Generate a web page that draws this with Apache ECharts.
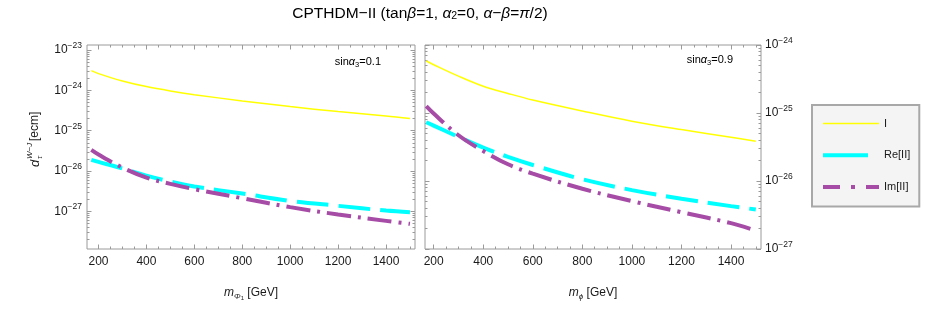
<!DOCTYPE html>
<html><head><meta charset="utf-8">
<script src="https://cdn.jsdelivr.net/npm/echarts@6/dist/echarts.min.js"></script>
<style>html,body{margin:0;padding:0;background:#fff}#c{width:926px;height:313px}</style>
</head><body><div id="c"></div>
<script>
// ---- data ----
const massL = [170, 200, 300, 400, 500, 600, 800, 1000, 1200, 1400, 1500];
const massR = [170, 200, 300, 400, 500, 600, 800, 1000, 1200, 1400, 1500];
// sin(alpha3) = 0.1
const I_01  = [3.08e-24, 2.60e-24, 1.71e-24, 1.24e-24, 9.67e-25, 7.84e-25, 5.47e-25, 3.96e-25, 2.98e-25, 2.32e-25, 2.00e-25];
const Re_01 = [1.89e-26, 1.69e-26, 1.16e-26, 7.75e-27, 5.50e-27, 4.14e-27, 2.78e-27, 1.83e-27, 1.38e-27, 1.05e-27, 9.60e-28];
const Im_01 = [3.35e-26, 2.57e-26, 1.22e-26, 6.90e-27, 4.82e-27, 3.56e-27, 2.13e-27, 1.28e-27, 8.40e-28, 5.85e-28, 4.93e-28];
// sin(alpha3) = 0.9
const I_09  = [5.81e-25, 5.13e-25, 3.49e-25, 2.48e-25, 1.94e-25, 1.55e-25, 1.07e-25, 7.57e-26, 5.70e-26, 4.40e-26, 3.84e-26];
const Re_09 = [7.31e-26, 6.53e-26, 4.45e-26, 3.10e-26, 2.26e-26, 1.72e-26, 1.06e-26, 7.35e-27, 5.48e-27, 4.27e-27, 3.81e-27];
const Im_09 = [1.26e-25, 9.80e-26, 4.71e-26, 2.76e-26, 1.76e-26, 1.28e-26, 7.69e-27, 5.06e-27, 3.48e-27, 2.40e-27, 1.87e-27];
// tick labels
const xTickLabels = [200, 400, 600, 800, 1000, 1200, 1400];
const yTickLeft  = [1e-27, 1e-26, 1e-25, 1e-24, 1e-23];
const yTickRight = [1e-27, 1e-26, 1e-25, 1e-24];
const seriesNames = ['I', 'Re[II]', 'Im[II]'];

// ---- styling ----
const F = '"Liberation Sans", Arial, sans-serif';
const TXT = '#1a1a1a';
const FRAME = '#9a9a9a';
const COL = ['#ffff00', '#00ffff', '#a64ca6'];
const WID = [1.5, 4, 4];
const DASH = ['solid', [32, 10], [24, 7, 3, 7]];

// y axes are drawn on a log10 scale: positions are decimal exponents
const lg = Math.log10;
const xMinor = [];
for (let v = 150; v <= 1500; v += 50) if (xTickLabels.indexOf(v) < 0) xMinor.push(v);
function logMinor(e0, e1) {
  const out = [];
  for (let e = e0; e <= e1; e++) for (let k = 2; k <= 9; k++) out.push(e + lg(k));
  return out;
}
const yMinorLeft = logMinor(-28, -23);
const yMinorRight = logMinor(-28, -24);

function supFmt(v) {
  const e = Math.round(v);
  return '{b|10}{s|' + (e < 0 ? '\u2212' : '') + Math.abs(e) + '}';
}
const richY = {
  b: {fontSize: 12, lineHeight: 18, color: TXT, fontFamily: F},
  s: {fontSize: 8.5, lineHeight: 10, verticalAlign: 'top', color: TXT, fontFamily: F}
};

const grids = [
  {left: 87, top: 45, width: 328, height: 204, show: true, borderColor: FRAME, borderWidth: 1, backgroundColor: 'transparent'},
  {left: 425, top: 45, width: 336, height: 204, show: true, borderColor: FRAME, borderWidth: 1, backgroundColor: 'transparent'}
];
const xRange = [[152, 1521], [165, 1521]];
const yRange = [[-27.93, -22.876], [-27, -24]];

const xAxes = [], yAxes = [];
const nameRich = {
  t: {fontSize: 12, lineHeight: 16, color: TXT, fontFamily: F},
  i: {fontSize: 12, lineHeight: 16, fontStyle: 'italic', color: TXT, fontFamily: F},
  sb: {fontSize: 8, lineHeight: 9, fontStyle: 'italic', verticalAlign: 'bottom', color: TXT, fontFamily: F},
  sb2: {fontSize: 6, lineHeight: 6, verticalAlign: 'bottom', color: TXT, fontFamily: F}
};
function addX(g, pos, ticks, len, labels, name) {
  xAxes.push({
    type: 'value', gridIndex: g, position: pos, min: xRange[g][0], max: xRange[g][1],
    axisLine: {show: false, onZero: false}, splitLine: {show: false},
    axisTick: {show: true, inside: true, length: len, customValues: ticks, lineStyle: {color: FRAME, width: 1}},
    axisLabel: labels ? {show: true, customValues: labels, margin: 7, fontSize: 12, color: TXT, fontFamily: F,
      formatter: v => String(v)} : {show: false},
    name: name || '', nameLocation: 'middle', nameGap: 36, nameTextStyle: {rich: nameRich}
  });
  return xAxes.length - 1;
}
function addY(g, pos, ticks, len, labels) {
  yAxes.push({
    type: 'value', gridIndex: g, position: pos, min: yRange[g][0], max: yRange[g][1],
    axisLine: {show: false, onZero: false}, splitLine: {show: false},
    axisTick: {show: true, inside: true, length: len, customValues: ticks, lineStyle: {color: FRAME, width: 1}},
    axisLabel: labels ? {show: true, customValues: labels, margin: pos === 'left' ? 5 : 4, formatter: supFmt, rich: richY, color: TXT} : {show: false}
  });
  return yAxes.length - 1;
}
const xMain = [], yMain = [];
const xNames = ['{i|m}{sb|\u03a6}{sb2|1}{t| [GeV]}', '{i|m}{sb|\u03d5}{t| [GeV]}'];
for (let g = 0; g < 2; g++) {
  xMain[g] = addX(g, 'bottom', xTickLabels, 4.5, xTickLabels, xNames[g]);
  addX(g, 'bottom', xMinor, 2.5);
  addX(g, 'top', xTickLabels, 4.5);
  addX(g, 'top', xMinor, 2.5);
  const yt = (g === 0 ? yTickLeft : yTickRight).map(lg);
  const ym = g === 0 ? yMinorLeft : yMinorRight;
  const side = g === 0 ? 'left' : 'right';
  const other = g === 0 ? 'right' : 'left';
  yMain[g] = addY(g, side, yt, 4.5, yt);
  addY(g, side, ym, 2.5);
  addY(g, other, yt, 4.5);
  addY(g, other, ym, 2.5);
}

const panels = [
  {mass: massL, vals: [I_01, Re_01, Im_01]},
  {mass: massR, vals: [I_09, Re_09, Im_09]}
];
const series = [];
panels.forEach((p, g) => {
  p.vals.forEach((arr, k) => {
    series.push({
      name: seriesNames[k], type: 'line', xAxisIndex: xMain[g], yAxisIndex: yMain[g],
      data: p.mass.map((m, i) => [m, lg(arr[i])]),
      symbol: 'none', smooth: 0.35, silent: true, z: 3 + k,
      color: COL[k],
      lineStyle: {color: COL[k], width: WID[k], type: DASH[k], cap: 'butt'}
    });
  });
});

const tRich = {
  t: {fontSize: 15.5, color: TXT, fontFamily: F},
  g: {fontSize: 15.5, fontStyle: 'italic', color: TXT, fontFamily: F},
  sb: {fontSize: 10.5, lineHeight: 10, verticalAlign: 'bottom', color: TXT, fontFamily: F}
};
const aRich = {
  t: {fontSize: 11, color: TXT, fontFamily: F, lineHeight: 14},
  g: {fontSize: 11, fontStyle: 'italic', color: TXT, fontFamily: F, lineHeight: 14},
  sb: {fontSize: 7.5, lineHeight: 8, verticalAlign: 'bottom', color: TXT, fontFamily: F}
};

const option = {
  animation: false,
  backgroundColor: '#ffffff',
  grid: grids,
  xAxis: xAxes,
  yAxis: yAxes,
  legend: {
    orient: 'vertical', left: 812, top: 105,
    padding: [13, 9, 14, 9], itemGap: 20.5, itemWidth: 56, itemHeight: 14,
    backgroundColor: '#f4f4f4', borderColor: '#a8a8a8', borderWidth: 2, borderRadius: 0,
    itemStyle: {opacity: 0},
    textStyle: {fontSize: 11, color: TXT, fontFamily: F},
    data: [
      {name: 'I', lineStyle: {width: 1.5}},
      {name: 'Re[II]', lineStyle: {width: 4, type: [45, 100]}},
      {name: 'Im[II]', lineStyle: {width: 4, type: [17, 11, 4, 11]}}
    ]
  },
  graphic: [
    {type: 'text', x: 420, y: 14, style: {
      text: '{t|CPTHDM\u2212II (tan}{g|\u03b2}{t|=1, }{g|\u03b1}{sb|2}{t|=0, }{g|\u03b1}{t|\u2212}{g|\u03b2}{t|=}{g|\u03c0}{t|/2)}',
      rich: tRich, align: 'center', verticalAlign: 'middle'}},
    {type: 'text', x: 381, y: 62, style: {
      text: '{t|sin}{g|\u03b1}{sb|3}{t|=0.1}', rich: aRich, align: 'right', verticalAlign: 'middle'}},
    {type: 'text', x: 733, y: 60, style: {
      text: '{t|sin}{g|\u03b1}{sb|3}{t|=0.9}', rich: aRich, align: 'right', verticalAlign: 'middle'}},
    {type: 'group', x: 35, y: 140, rotation: Math.PI / 2, children: [
      {type: 'text', x: -27, y: 0, style: {text: 'd', font: 'italic 13px ' + F, fill: TXT, align: 'left', verticalAlign: 'middle'}},
      {type: 'text', x: -19, y: -5, style: {text: 'W\u2212J', font: 'italic 8px ' + F, fill: TXT, align: 'left', verticalAlign: 'middle'}},
      {type: 'text', x: -19, y: 5, style: {text: '\u03c4', font: 'italic 8px ' + F, fill: TXT, align: 'left', verticalAlign: 'middle'}},
      {type: 'text', x: -1, y: 0, style: {text: '[ecm]', font: '12px ' + F, fill: TXT, align: 'left', verticalAlign: 'middle'}}
    ]}
  ],
  series: series
};
const chart = echarts.init(document.getElementById('c'), null, {renderer: 'canvas'});
chart.setOption(option);
</script>
</body></html>
